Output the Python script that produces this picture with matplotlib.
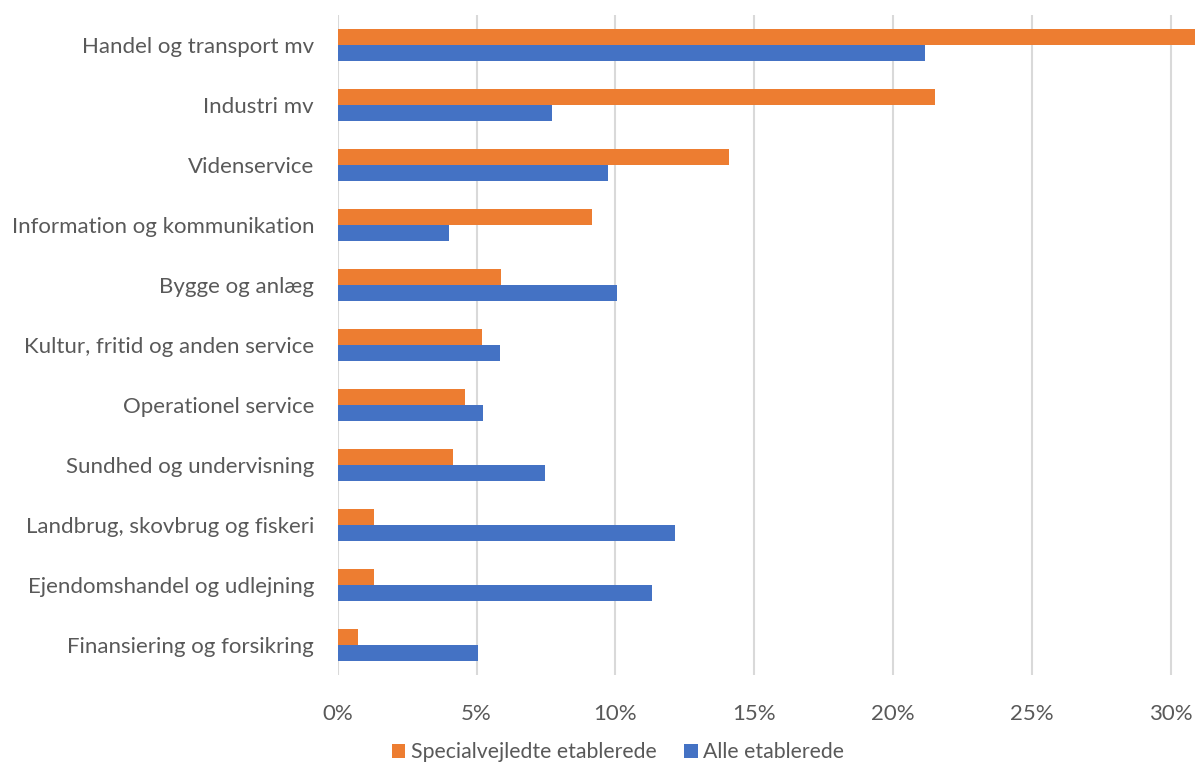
import matplotlib.pyplot as plt
import numpy as np
from matplotlib.ticker import FuncFormatter

# Data (share of established firms by industry)
kategorier = ["Handel og transport mv", "Industri mv", "Videnservice",
              "Information og kommunikation", "Bygge og anlæg",
              "Kultur, fritid og anden service", "Operationel service",
              "Sundhed og undervisning", "Landbrug, skovbrug og fiskeri",
              "Ejendomshandel og udlejning", "Finansiering og forsikring"]
specialvejledte = [0.312, 0.215, 0.141, 0.0915, 0.0587, 0.0518, 0.046,
                   0.0414, 0.013, 0.013, 0.0072]
alle = [0.2115, 0.077, 0.0975, 0.040, 0.1004, 0.0583, 0.0522,
        0.0745, 0.1216, 0.1133, 0.0504]

plt.rcParams['font.family'] = ['Lato', 'DejaVu Sans']

fig = plt.figure(figsize=(11.95, 7.69), dpi=100)
ax = fig.add_axes([0.2826, 0.1222, 0.7174, 0.8583])

n = len(kategorier)
y = np.arange(n)[::-1]
h = 0.267
ax.barh(y + h / 2, specialvejledte, height=h, color='#ED7D31',
        label='Specialvejledte etablerede', zorder=3)
ax.barh(y - h / 2, alle, height=h, color='#4472C4',
        label='Alle etablerede', zorder=3)

ax.set_xlim(0, 0.3087)
ax.set_ylim(-0.5, n - 0.5)
ax.set_xticks(np.arange(0, 0.31, 0.05))
ax.xaxis.set_major_formatter(FuncFormatter(lambda v, p: f"{v*100:.0f}%"))
ax.set_yticks(y)
ax.set_yticklabels(kategorier)
ax.grid(axis='x', color='#D9D9D9', linewidth=1.5, zorder=0)
for s in ax.spines.values():
    s.set_visible(False)
ax.tick_params(length=0, labelsize=16, colors='#595959')
ax.tick_params(axis='x', pad=21)
ax.tick_params(axis='y', pad=17)

fig.legend(loc='lower center', bbox_to_anchor=(0.517, -0.016), ncol=2,
           frameon=False, fontsize=15.3, handlelength=0.65, handleheight=0.65,
           handletextpad=0.25, columnspacing=1.3, labelcolor='#595959')

fig.savefig('out.png', dpi=100)
